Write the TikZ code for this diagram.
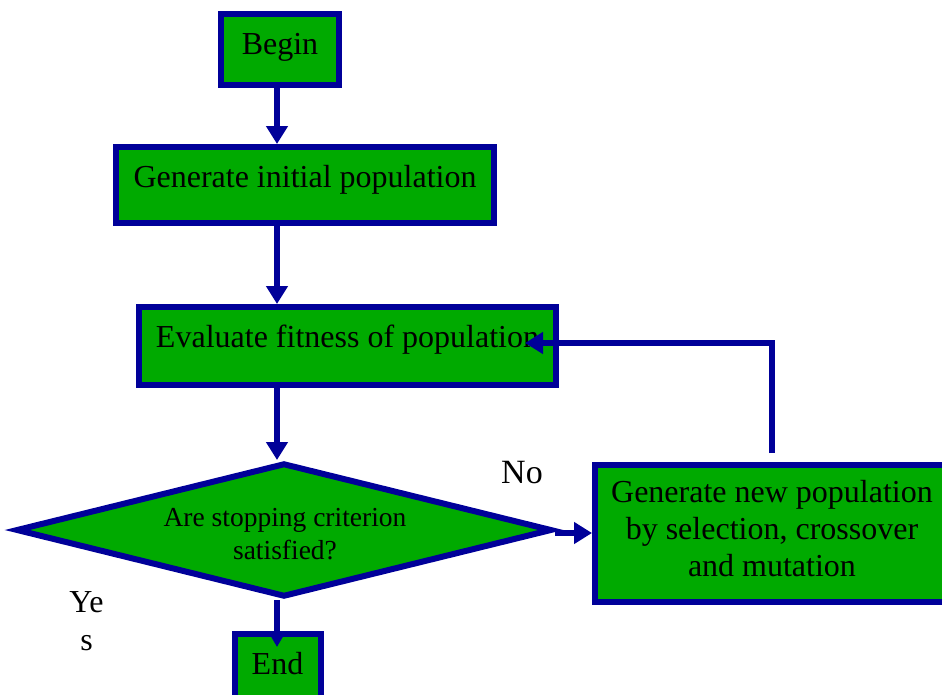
\documentclass[tikz,border=0pt]{standalone}
\usepackage{fontspec}
\setmainfont{Liberation Serif}
\usetikzlibrary{shapes.geometric,arrows.meta}
\definecolor{boxgreen}{RGB}{0,170,0}
\definecolor{boxblue}{RGB}{0,0,153}
\begin{document}
\begin{tikzpicture}[x=1pt,y=-1pt,
  box/.style={draw=boxblue, fill=boxgreen, line width=6pt, inner sep=0pt,
              text height=22pt, font=\fontsize{32}{37}\selectfont},
  arr/.style={draw=boxblue, line width=6pt, -{Triangle[length=18pt,width=21pt]}},
  smalltip/.style={-{Triangle[length=13pt,width=14pt]}},
  lbl/.style={inner sep=0pt, align=center}]
\useasboundingbox (0,0) rectangle (942,694);
\clip (0,0) rectangle (942,694);

% helper coordinates
\coordinate (ax) at (277,0);
\coordinate (ay) at (0,533);
\coordinate (lx) at (772,0);
\coordinate (ly) at (0,343);
\coordinate (evalin) at (525,343);
\coordinate (endtip) at (277,647);

% boxes
\node[box, minimum width=118pt, minimum height=71pt, text depth=13pt] (begin) at (280,49.5) {Begin};
\node[box, minimum width=378pt, minimum height=76pt, text depth=18pt] (gen) at (305,185) {Generate initial population};
\node[box, minimum width=417pt, minimum height=78pt, text depth=20pt] (eval) at (347.5,346) {Evaluate fitness of population};
\node[diamond, draw=boxblue, fill=boxgreen, line width=6pt, inner sep=0pt,
      minimum width=536pt, minimum height=134pt] (dia) at (284,530) {};
\node[lbl, font=\fontsize{27.5}{33}\selectfont] (diatext) at (285,534.3) {Are stopping criterion\\satisfied?};
\node[box, minimum width=352pt, minimum height=137pt] (newpop) at (771,533.5) {};
\node[lbl, font=\fontsize{32}{37}\selectfont] (newpoptext) at (772,529) {Generate new population\\by selection, crossover\\and mutation};
\node[box, minimum width=86pt, minimum height=80pt, text depth=21pt] (end) at (277.5,673.5) {End};

% labels
\node[lbl, anchor=base west, font=\fontsize{34}{40}\selectfont] (no) at (501,483) {No};
\node[lbl, font=\fontsize{32}{38}\selectfont] (yes) at (86.5,621.4) {Ye\\s};

% connectors
\draw[arr] (begin.south -| ax) -- (gen.north -| ax);
\draw[arr] (gen.south -| ax) -- (eval.north -| ax);
\draw[arr] (eval.south -| ax) -- (dia.north -| ax);
\draw[arr, smalltip] (dia.south -| ax) -- (endtip);
\draw[arr] (dia.east |- ay) -- (newpop.west |- ay);
\draw[arr] ([yshift=9pt]newpop.north -| lx) -- (lx |- ly) -- (evalin);
\end{tikzpicture}
\end{document}
